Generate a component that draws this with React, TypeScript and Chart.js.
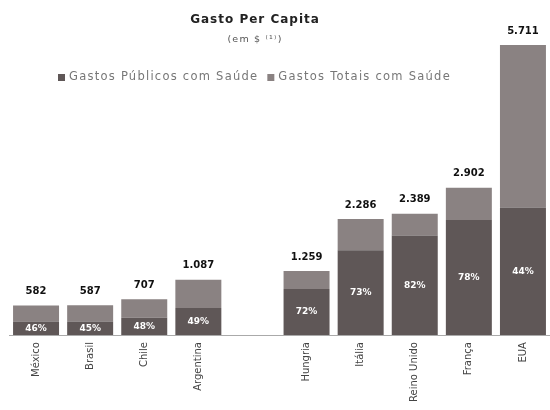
import React, { useEffect, useRef } from "react";
import { Chart, registerables } from "chart.js";

Chart.register(...registerables);

const categories = ["México", "Brasil", "Chile", "Argentina", "", "Hungria", "Itália", "Reino Unido", "França", "EUA"];
const totals: (number | null)[] = [582, 587, 707, 1087, null, 1259, 2286, 2389, 2902, 5711];
const publicPct: (number | null)[] = [46, 45, 48, 49, null, 72, 73, 82, 78, 44];
const seriesNames = ["Gastos Públicos com Saúde", "Gastos Totais com Saúde"];
const titleText = "Gasto Per Capita";
const subtitleText = "(em $ ⁽¹⁾)";

const publicVals = totals.map((t, i) => (t == null || publicPct[i] == null ? null : (t * (publicPct[i] as number)) / 100));
const restVals = totals.map((t, i) => (t == null || publicVals[i] == null ? null : t - (publicVals[i] as number)));

const DARK = "#5f5757";
const LIGHT = "#8a8282";
const FONT = "'DejaVu Sans', Verdana, sans-serif";

function fmt(n: number): string {
  return String(Math.round(n)).replace(/\B(?=(\d{3})+(?!\d))/g, ".");
}

const labelsPlugin = {
  id: "customLabels",
  afterDraw(chart: any) {
    const ctx = chart.ctx;
    ctx.save();
    // title
    ctx.fillStyle = "#222";
    ctx.textAlign = "center";
    ctx.textBaseline = "middle";
    ctx.letterSpacing = "1px";
    ctx.font = `bold 12px ${FONT}`;
    ctx.fillText(titleText, 255, 20);
    ctx.font = `9.5px ${FONT}`;
    ctx.letterSpacing = "1.2px";
    ctx.fillStyle = "#555";
    ctx.fillText(subtitleText, 255, 40);
    // legend
    ctx.font = `11.5px ${FONT}`;
    ctx.letterSpacing = "1.25px";
    ctx.textAlign = "left";
    let x = 58;
    const ly = 77;
    const colors = [DARK, LIGHT];
    seriesNames.forEach((name, i) => {
      ctx.fillStyle = colors[i];
      ctx.fillRect(x, ly - 3, 7, 7);
      x += 11;
      ctx.fillStyle = "#777";
      ctx.fillText(name, x, ly);
      x += ctx.measureText(name).width + 9;
    });
    ctx.letterSpacing = "0px";
    // value labels
    const metaTop = chart.getDatasetMeta(1);
    const metaBot = chart.getDatasetMeta(0);
    totals.forEach((t, i) => {
      if (t == null) return;
      const topBar = metaTop.data[i];
      const botBar = metaBot.data[i];
      ctx.textAlign = "center";
      ctx.textBaseline = "middle";
      ctx.fillStyle = "#111";
      ctx.font = `bold 10px ${FONT}`;
      ctx.fillText(fmt(t), topBar.x, topBar.y - 14);
      ctx.fillStyle = "#fff";
      ctx.font = `bold 9px ${FONT}`;
      const cy = (botBar.y + botBar.base) / 2;
      ctx.fillText(`${publicPct[i]}%`, botBar.x, cy);
    });
    ctx.restore();
  },
};

export default function App() {
  const ref = useRef<HTMLCanvasElement | null>(null);
  useEffect(() => {
    if (!ref.current) return;
    const chart = new Chart(ref.current, {
      type: "bar",
      data: {
        labels: categories,
        datasets: [
          { label: seriesNames[0], data: publicVals as any, backgroundColor: DARK, borderWidth: 0 },
          { label: seriesNames[1], data: restVals as any, backgroundColor: LIGHT, borderWidth: 0 },
        ],
      },
      options: {
        animation: false,
        responsive: false,
        maintainAspectRatio: false,
        layout: { padding: { top: 45, left: 9, right: 0, bottom: 1 } },
        datasets: { bar: { categoryPercentage: 1, barPercentage: 0.85 } },
        plugins: { legend: { display: false }, title: { display: false }, tooltip: { enabled: false } },
        scales: {
          x: {
            stacked: true,
            grid: { display: false, drawTicks: false },
            border: { display: true, color: "#aaa", width: 1 },
            ticks: {
              minRotation: 90,
              maxRotation: 90,
              padding: 7,
              color: "#444",
              font: { family: FONT, size: 10 },
            },
          },
          y: {
            stacked: true,
            display: false,
            min: 0,
            max: 5711,
          },
        },
      },
      plugins: [labelsPlugin],
    });
    return () => chart.destroy();
  }, []);
  return (
    <div style={{ position: "fixed", left: 0, top: 0, width: 550, height: 410, background: "#fff" }}>
      <canvas ref={ref} width={550} height={410} />
    </div>
  );
}
